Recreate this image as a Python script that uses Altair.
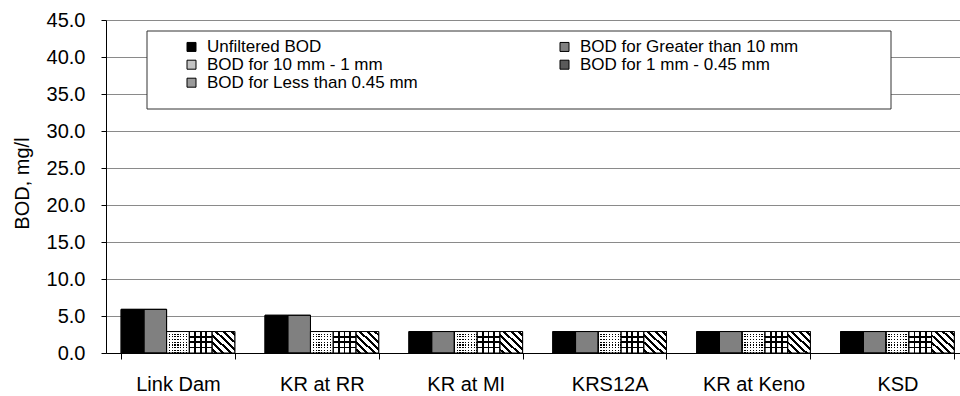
import altair as alt
import pandas as pd

# Sampling sites along the river
sites = ["Link Dam", "KR at RR", "KR at MI", "KRS12A", "KR at Keno", "KSD"]

# BOD fractions (mg/l)
series = [
    "Unfiltered BOD",
    "BOD for Greater than 10 mm",
    "BOD for 10 mm - 1 mm",
    "BOD for 1 mm - 0.45 mm",
    "BOD for Less than 0.45 mm",
]
unfiltered = [5.9, 5.1, 2.9, 2.9, 2.9, 2.9]
greater_10mm = [5.9, 5.1, 2.9, 2.9, 2.9, 2.9]
mm10_to_1 = [2.9, 2.9, 2.9, 2.9, 2.9, 2.9]
mm1_to_045 = [2.9, 2.9, 2.9, 2.9, 2.9, 2.9]
less_045 = [2.9, 2.9, 2.9, 2.9, 2.9, 2.9]

y_ticks = [0, 5, 10, 15, 20, 25, 30, 35, 40, 45]

columns = [unfiltered, greater_10mm, mm10_to_1, mm1_to_045, less_045]
rows = []
for name, vals in zip(series, columns):
    for site, v in zip(sites, vals):
        rows.append({"site": site, "series": name, "bod": v})
df = pd.DataFrame(rows)

# Legend swatch colours per series
swatch = {
    series[0]: "#000000",
    series[1]: "#808080",
    series[2]: "#c4c4c4",
    series[3]: "#5a5a5a",
    series[4]: "#9a9a9a",
}
# Legend fills its columns top to bottom; this order reads across in rows
legend_order = [series[0], series[2], series[4], series[1], series[3]]

FONT = "Liberation Sans"


def banded(centers, half, on, off, x1, y1, x2, y2):
    """Hard-edged linear gradient: bands of `on` colour around each centre."""
    stops = [alt.GradientStop(offset=0, color=off)]
    for c in centers:
        a, b = max(c - half, 0), min(c + half, 1)
        stops += [
            alt.GradientStop(offset=a, color=off),
            alt.GradientStop(offset=a, color=on),
            alt.GradientStop(offset=b, color=on),
            alt.GradientStop(offset=b, color=off),
        ]
    stops.append(alt.GradientStop(offset=1, color=off))
    return alt.LinearGradient(gradient="linear", stops=stops, x1=x1, y1=y1, x2=x2, y2=y2)


x_enc = alt.X(
    "site:N",
    sort=sites,
    title=None,
    scale=alt.Scale(range=[0, 863.4], paddingInner=0.21, paddingOuter=0.105),
    axis=alt.Axis(
        labelAngle=0,
        tickBand="extent",
        tickSize=6,
        tickColor="black",
        domainColor="black",
        labelPadding=15,
        labelFontSize=20,
        labelFont=FONT,
        labelColor="black",
        grid=False,
    ),
)
xo_enc = alt.XOffset("series:N", sort=series, scale=alt.Scale(domain=series, paddingInner=0, paddingOuter=0))
y_enc = alt.Y(
    "bod:Q",
    scale=alt.Scale(domain=[0, 45], nice=False),
    axis=alt.Axis(
        values=y_ticks,
        format=".1f",
        title="BOD, mg/l",
        titleFont=FONT,
        titleFontSize=20,
        titleFontWeight="normal",
        titleColor="black",
        titleAngle=270,
        titleX=-84,
        titleY=163,
        titleAlign="center",
        titleBaseline="middle",
        labelFont=FONT,
        labelFontSize=20,
        labelColor="black",
        labelPadding=16,
        tickSize=5,
        tickColor="black",
        domainColor="black",
        gridColor="#8a8a8a",
        gridWidth=1,
    ),
)
enc = dict(x=x_enc, xOffset=xo_enc, y=y_enc)

base = alt.Chart(df)

# Legend frame
frame = alt.Chart(pd.DataFrame({"frame": [0]})).mark_rect(
    fill="white", stroke="#333333", strokeWidth=1
).encode(x=alt.value(41), x2=alt.value(785), y=alt.value(11), y2=alt.value(89))

bars = base.mark_bar(stroke="black", strokeWidth=1).encode(
    color=alt.Color(
        "series:N",
        scale=alt.Scale(domain=legend_order, range=[swatch[s] for s in legend_order]),
        legend=alt.Legend(
            title=None,
            orient="none",
            legendX=77,
            legendY=18.2,
            columns=2,
            columnPadding=138,
            rowPadding=0,
            padding=0,
            symbolType="square",
            symbolSize=81,
            symbolStrokeColor="black",
            symbolStrokeWidth=1,
            symbolOpacity=1,
            labelFont=FONT,
            labelFontSize=17,
            labelColor="black",
            labelOffset=7,
            labelLimit=400,
        ),
    ),
    **enc,
)

# Stipple: black ground with white bands both ways leaves black dots
n_dot = 8
dot_centers = [(i + 0.5) / n_dot for i in range(n_dot)]
dot_half = 0.56 / n_dot / 2
dots_bg = base.transform_filter(alt.datum.series == series[2]).mark_bar(fill="black").encode(**enc)
dots_h = base.transform_filter(alt.datum.series == series[2]).mark_bar(
    fill=banded(dot_centers, dot_half, "white", "transparent", 0, 0, 0, 1)
).encode(**enc)
dots_v = base.transform_filter(alt.datum.series == series[2]).mark_bar(
    fill=banded(dot_centers, dot_half, "white", "transparent", 0, 0, 1, 0)
).encode(**enc)

# Cross-hatch grid
grid_centers = [0.25, 0.5, 0.75]
grid_h = base.transform_filter(alt.datum.series == series[3]).mark_bar(
    fill=banded(grid_centers, 0.04, "black", "white", 0, 0, 0, 1)
).encode(**enc)
grid_v = base.transform_filter(alt.datum.series == series[3]).mark_bar(
    fill=banded(grid_centers, 0.04, "black", "transparent", 0, 0, 1, 0)
).encode(**enc)

# Diagonal hatch
n_diag = 6
diag_centers = [(i + 0.5) / n_diag for i in range(n_diag)]
diag = base.transform_filter(alt.datum.series == series[4]).mark_bar(
    fill=banded(diag_centers, 0.2 / n_diag, "black", "white", 0, 1, 1, 0)
).encode(**enc)

outline = base.mark_bar(fillOpacity=0, stroke="black", strokeWidth=1).encode(**enc)

chart = (
    alt.layer(frame, bars, dots_bg, dots_h, dots_v, grid_h, grid_v, diag, outline)
    .properties(
        width=854,
        height=333,
        autosize="none",
        padding={"left": 106, "top": 20, "right": 0, "bottom": 43},
        background="white",
    )
    .configure_view(strokeWidth=0)
)

chart.save("out.html", embed_options={"renderer": "svg", "actions": False})
